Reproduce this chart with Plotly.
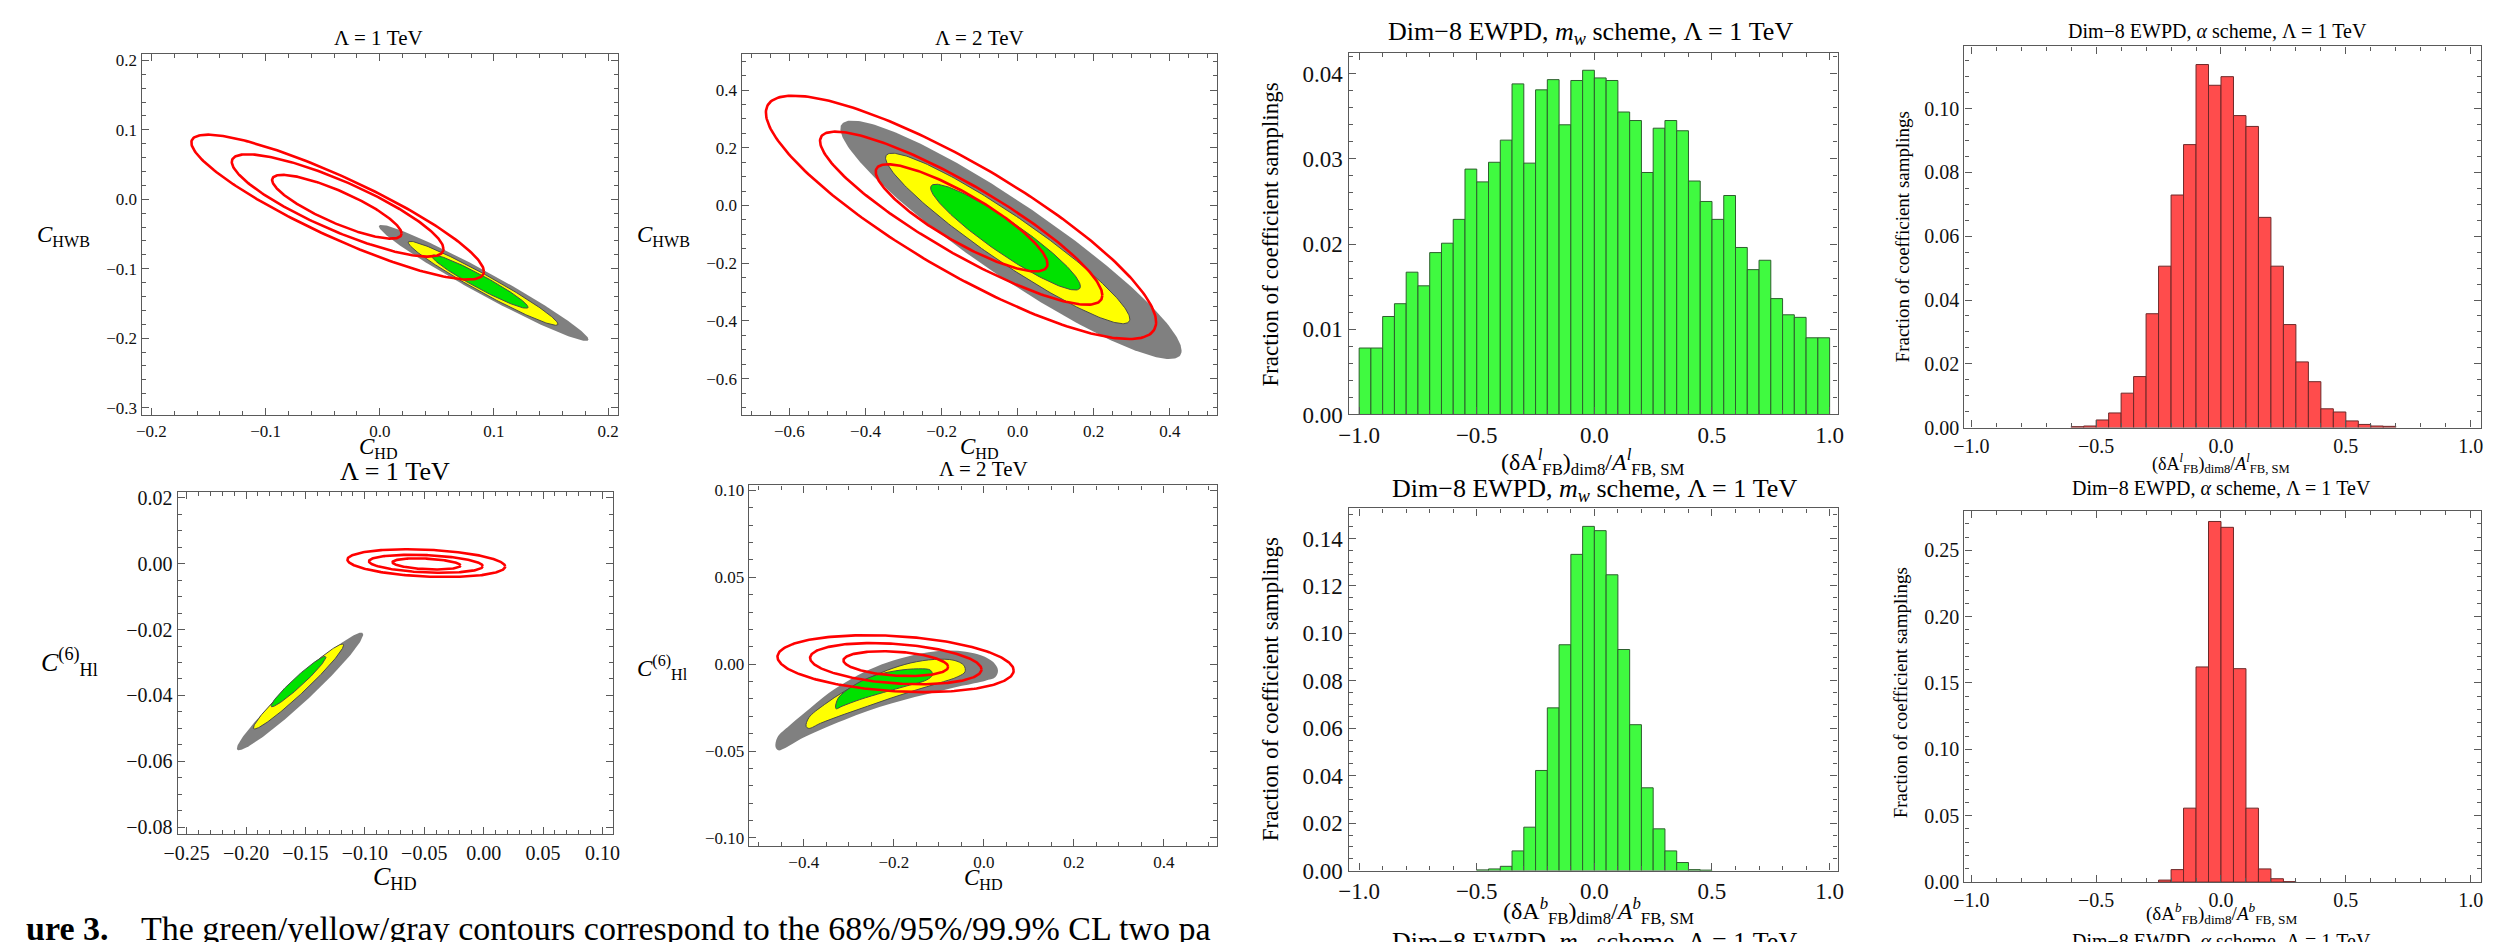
import numpy as np
import plotly.graph_objects as go

W, H = 2498, 942
FONT = "Liberation Serif"

# ======================= DATA =======================
# Contour regions are described as ellipses: centre (cx, cy), half-extent (sx, sy), correlation rho.
# order of fills: gray (99.9%), yellow (95%), green (68%); red lines: outer, middle, inner

# Panel 1: C_HD vs C_HWB, Lambda = 1 TeV
p1_fill_cx = [0.0910, 0.0905, 0.0877]
p1_fill_cy = [-0.1204, -0.1209, -0.1185]
p1_fill_sx = [0.0918, 0.0656, 0.0422]
p1_fill_sy = [0.0836, 0.0605, 0.0384]
p1_fill_rho = [-0.975, -0.972, -0.960]
p1_red_cx = [-0.0369, -0.0369, -0.0376]
p1_red_cy = [-0.0112, -0.0088, -0.0107]
p1_red_sx = [0.1281, 0.0927, 0.0567]
p1_red_sy = [0.1043, 0.0737, 0.0459]
p1_red_rho = [-0.89, -0.85, -0.84]

# Panel 2: C_HD vs C_HWB, Lambda = 2 TeV
p2_fill_cx = [-0.0175, -0.0263, -0.0320]
p2_fill_cy = [-0.1187, -0.1142, -0.1096]
p2_fill_sx = [0.4485, 0.3211, 0.1969]
p2_fill_sy = [0.4134, 0.2956, 0.1835]
p2_fill_rho = [-0.930, -0.945, -0.930]
p2_red_cx = [-0.1490, -0.1485, -0.1474]
p2_red_cy = [-0.0411, -0.0439, -0.0428]
p2_red_sx = [0.5129, 0.3711, 0.2258]
p2_red_sy = [0.4219, 0.3001, 0.1857]
p2_red_rho = [-0.86, -0.89, -0.86]

# Panel 5: C_HD vs C(6)_Hl, Lambda = 1 TeV
p5_fill_cx = [-0.1546, -0.1559, -0.1559]
p5_fill_cy = [-0.0388, -0.0373, -0.0358]
p5_fill_sx = [0.0532, 0.0380, 0.0231]
p5_fill_sy = [0.01787, 0.01291, 0.00765]
p5_fill_rho = [0.968, 0.973, 0.966]
p5_red_cx = [-0.0483, -0.0486, -0.0481]
p5_red_cy = [0.00019, -0.00001, -0.00006]
p5_red_sx = [0.0664, 0.0479, 0.0286]
p5_red_sy = [0.00422, 0.00273, 0.00169]
p5_red_rho = [-0.25, -0.27, -0.30]

# Panel 6: C_HD vs C(6)_Hl, Lambda = 2 TeV (curved regions read as boundary points)
p6_gray_x = [-0.4627, -0.4584, -0.4322, -0.3974, -0.3451, -0.2928, -0.2405, -0.1882, -0.1360,
             -0.0837, -0.0401, -0.0052, 0.0209, 0.0314, 0.0253, 0.0035, -0.0488, -0.1011,
             -0.1534, -0.2057, -0.2580, -0.3102, -0.3625, -0.4061, -0.4410, -0.4566]
p6_gray_y = [-0.0477, -0.0421, -0.0355, -0.0279, -0.0167, -0.0082, -0.0016, 0.0031, 0.0063,
             0.0078, 0.0072, 0.0050, 0.0012, -0.0035, -0.0076, -0.0095, -0.0125, -0.0157,
             -0.0189, -0.0227, -0.0270, -0.0321, -0.0377, -0.0430, -0.0483, -0.0496]
p6_yel_x = [-0.3948, -0.3887, -0.3538, -0.3102, -0.2667, -0.2144, -0.1621, -0.1098, -0.0662,
            -0.0444, -0.0418, -0.0575, -0.1011, -0.1534, -0.2057, -0.2580, -0.3102, -0.3625, -0.3887]
p6_yel_y = [-0.0358, -0.0308, -0.0232, -0.0157, -0.0095, -0.0035, 0.0007, 0.0027, 0.0022,
            -0.0007, -0.0044, -0.0072, -0.0110, -0.0151, -0.0195, -0.0242, -0.0289, -0.0340, -0.0370]
p6_grn_x = [-0.3294, -0.3233, -0.2928, -0.2492, -0.1970, -0.1447, -0.1185, -0.1142, -0.1272,
            -0.1708, -0.2231, -0.2754, -0.3146, -0.3277]
p6_grn_y = [-0.0251, -0.0195, -0.0129, -0.0072, -0.0039, -0.0027, -0.0035, -0.0063, -0.0091,
            -0.0125, -0.0163, -0.0204, -0.0242, -0.0257]
p6_red_cx = [-0.1961, -0.1956, -0.1956]
p6_red_cy = [0.00028, 0.00028, 0.00028]
p6_red_sx = [0.2623, 0.1904, 0.1163]
p6_red_sy = [0.01637, 0.01185, 0.00715]
p6_red_rho = [-0.24, -0.28, -0.26]

# Histograms (bin width 0.05)
bin_width = 0.05
h3_start = -1.0   # A_FB^l, m_w scheme
h3_vals = [0.0078, 0.0078, 0.0115, 0.0130, 0.0167, 0.0151, 0.0190, 0.0201, 0.0229, 0.0288,
           0.0273, 0.0296, 0.0322, 0.0388, 0.0295, 0.0381, 0.0393, 0.0340, 0.0392, 0.0404,
           0.0395, 0.0392, 0.0355, 0.0345, 0.0284, 0.0336, 0.0345, 0.0333, 0.0274, 0.0250,
           0.0229, 0.0257, 0.0196, 0.0170, 0.0181, 0.0136, 0.0117, 0.0114, 0.0090, 0.0090]
h4_start = -0.60  # A_FB^l, alpha scheme
h4_vals = [0.0003, 0.0005, 0.0024, 0.0046, 0.0108, 0.0160, 0.0357, 0.0506, 0.0729, 0.0887,
           0.1138, 0.1073, 0.1100, 0.0978, 0.0944, 0.0659, 0.0506, 0.0323, 0.0206, 0.0144,
           0.0059, 0.0049, 0.0021, 0.0010, 0.0005, 0.0004]
h7_start = -0.50  # A_FB^b, m_w scheme
h7_vals = [0.0003, 0.0007, 0.0018, 0.0083, 0.0183, 0.0422, 0.0686, 0.0952, 0.1333, 0.1451,
           0.1433, 0.1247, 0.0932, 0.0615, 0.0349, 0.0176, 0.0083, 0.0034, 0.0004, 0.0002]
h8_start = -0.25  # A_FB^b, alpha scheme
h8_vals = [0.0015, 0.0094, 0.0557, 0.1621, 0.2717, 0.2673, 0.1608, 0.0557, 0.0099, 0.0025, 0.0003]

# ======================= STYLE =======================
GRAY = "rgb(128,128,128)"
YELLOW = "rgb(255,255,0)"
GREEN = "rgb(0,226,0)"
RED = "rgb(255,0,0)"
HGREEN = "rgb(64,250,64)"
HRED = "rgb(255,76,76)"
AXC = "#5a5a5a"


def ellipse_pts(cx, cy, sx, sy, rho, n=240):
    t = np.linspace(0, 2 * np.pi, n)
    x = cx + sx * np.cos(t)
    y = cy + sy * (rho * np.cos(t) + np.sqrt(1 - rho ** 2) * np.sin(t))
    return x, y


fig = go.Figure()
fill_cols = [GRAY, YELLOW, GREEN]


def add_ellipse_panel(k, fcx, fcy, fsx, fsy, frho, rcx, rcy, rsx, rsy, rrho):
    xa, ya = ("x" if k == 1 else f"x{k}"), ("y" if k == 1 else f"y{k}")
    for i in range(3):
        x, y = ellipse_pts(fcx[i], fcy[i], fsx[i], fsy[i], frho[i])
        fig.add_trace(go.Scatter(x=x, y=y, mode="lines", fill="toself", fillcolor=fill_cols[i],
                                 line=dict(color="#4a4a4a" if i > 0 else GRAY, width=1 if i > 0 else 0),
                                 xaxis=xa, yaxis=ya, hoverinfo="skip"))
    for i in range(3):
        x, y = ellipse_pts(rcx[i], rcy[i], rsx[i], rsy[i], rrho[i])
        fig.add_trace(go.Scatter(x=x, y=y, mode="lines", line=dict(color=RED, width=2.6),
                                 xaxis=xa, yaxis=ya, hoverinfo="skip"))


add_ellipse_panel(1, p1_fill_cx, p1_fill_cy, p1_fill_sx, p1_fill_sy, p1_fill_rho,
                  p1_red_cx, p1_red_cy, p1_red_sx, p1_red_sy, p1_red_rho)
add_ellipse_panel(2, p2_fill_cx, p2_fill_cy, p2_fill_sx, p2_fill_sy, p2_fill_rho,
                  p2_red_cx, p2_red_cy, p2_red_sx, p2_red_sy, p2_red_rho)
add_ellipse_panel(5, p5_fill_cx, p5_fill_cy, p5_fill_sx, p5_fill_sy, p5_fill_rho,
                  p5_red_cx, p5_red_cy, p5_red_sx, p5_red_sy, p5_red_rho)

# Panel 6
for (px, py), col, lw in [((p6_gray_x, p6_gray_y), GRAY, 0), ((p6_yel_x, p6_yel_y), YELLOW, 1),
                          ((p6_grn_x, p6_grn_y), GREEN, 1)]:
    fig.add_trace(go.Scatter(x=px + px[:1], y=py + py[:1], mode="lines", fill="toself", fillcolor=col,
                             line=dict(color="#4a4a4a" if lw else col, width=lw, shape="spline", smoothing=1.0),
                             xaxis="x6", yaxis="y6", hoverinfo="skip"))
for i in range(3):
    x, y = ellipse_pts(p6_red_cx[i], p6_red_cy[i], p6_red_sx[i], p6_red_sy[i], p6_red_rho[i])
    fig.add_trace(go.Scatter(x=x, y=y, mode="lines", line=dict(color=RED, width=2.6),
                             xaxis="x6", yaxis="y6", hoverinfo="skip"))


def add_hist(k, start, vals, col, edge):
    centers = start + bin_width * (np.arange(len(vals)) + 0.5)
    fig.add_trace(go.Bar(x=centers, y=vals, width=bin_width,
                         marker=dict(color=col, line=dict(color=edge, width=1)),
                         xaxis=f"x{k}", yaxis=f"y{k}", hoverinfo="skip"))


add_hist(3, h3_start, h3_vals, HGREEN, "rgb(45,95,45)")
add_hist(4, h4_start, h4_vals, HRED, "rgb(110,40,40)")
add_hist(7, h7_start, h7_vals, HGREEN, "rgb(45,95,45)")
add_hist(8, h8_start, h8_vals, HRED, "rgb(110,40,40)")

# ======================= LAYOUT =======================
# (left, right, top, bottom) in pixels, ranges, ticks
panels = {
    1: ((120.6, 601, 41.7, 410), [-0.2086, 0.2086], [-0.3108, 0.2094], 0.1, 0.02, ".1f", 0.1, 0.02, ".1f", 17),
    2: ((725.7, 1205, 42, 410), [-0.7258, 0.5237], [-0.7268, 0.5246], 0.2, 0.05, ".1f", 0.2, 0.05, ".1f", 17),
    3: ((1337.8, 1831, 41, 409.3), [-1.045, 1.034], [0, 0.0424], 0.5, 0.1, ".1f", 0.01, 0.002, ".2f", 23),
    4: ((1958.8, 2480, 34, 422.7), [-1.028, 1.042], [0, 0.1195], 0.5, 0.1, ".1f", 0.02, 0.005, ".2f", 20),
    5: ((157, 596, 488.3, 837.3), [-0.2576, 0.1089], [-0.0822, 0.0218], 0.05, 0.01, ".2f", 0.02, 0.005, ".2f", 20),
    6: ((733, 1205, 481.7, 849.3), [-0.522, 0.5176], [-0.1047, 0.1028], 0.2, 0.05, ".1f", 0.05, 0.01, ".2f", 17),
    7: ((1337.8, 1831, 505, 874.3), [-1.045, 1.034], [0, 0.1527], 0.5, 0.1, ".1f", 0.02, 0.005, ".2f", 23),
    8: ((1958.8, 2480, 507.7, 886), [-1.028, 1.042], [0, 0.2796], 0.5, 0.1, ".1f", 0.05, 0.01, ".2f", 20),
}


def axis(dom, rng, dt, mdt, fmt, fs, anchor):
    return dict(domain=dom, range=rng, anchor=anchor, dtick=dt, tick0=0, tickformat=fmt,
                showline=True, linecolor=AXC, linewidth=1.4, mirror="allticks",
                ticks="inside", ticklen=7, tickwidth=1.2, tickcolor=AXC,
                minor=dict(ticks="inside", ticklen=4, tickwidth=1, tickcolor=AXC, dtick=mdt, tick0=0),
                showgrid=False, zeroline=False, fixedrange=True,
                tickfont=dict(family=FONT, size=fs, color="#111"))


layout = dict(width=W, height=H, margin=dict(l=0, r=0, t=0, b=0), paper_bgcolor="white",
              plot_bgcolor="white", showlegend=False, barmode="overlay")
for k, ((l, r, t, b), xr, yr, xdt, xmdt, xf, ydt, ymdt, yf, fs) in panels.items():
    xn = "xaxis" if k == 1 else f"xaxis{k}"
    yn = "yaxis" if k == 1 else f"yaxis{k}"
    layout[xn] = axis([l / W, r / W], xr, xdt, xmdt, xf, fs, "y" if k == 1 else f"y{k}")
    layout[yn] = axis([1 - b / H, 1 - t / H], yr, ydt, ymdt, yf, fs, "x" if k == 1 else f"x{k}")
fig.update_layout(**layout)


def txt(x, y, s, size, angle=0, xanchor="center"):
    return dict(x=x / W, y=1 - y / H, xref="paper", yref="paper", text=s, showarrow=False,
                font=dict(family=FONT, size=size, color="black"), xanchor=xanchor,
                yanchor="middle", textangle=angle)


LAM1 = "Λ = 1 TeV"
LAM2 = "Λ = 2 TeV"
CHD = "<i>C</i><sub>HD</sub>"
CHWB = "<i>C</i><sub>HWB</sub>"
CHL = "<i>C</i><sup>(6)</sup><sub>Hl</sub>"
FRAC = "Fraction of coefficient samplings"
XL_L = "(δA<sup><i>l</i></sup><sub>FB</sub>)<sub>dim8</sub>/<i>A</i><sup><i>l</i></sup><sub>FB, SM</sub>"
XL_B = "(δA<sup><i>b</i></sup><sub>FB</sub>)<sub>dim8</sub>/<i>A</i><sup><i>b</i></sup><sub>FB, SM</sub>"
T_MW = "Dim−8 EWPD, <i>m<sub>w</sub></i> scheme, Λ = 1 TeV"
T_AL = "Dim−8 EWPD, <i>α</i> scheme, Λ = 1 TeV"

ann = [
    txt(360, 25, LAM1, 21), txt(360, 443, CHD, 23), txt(41.5, 227, CHWB, 23),
    txt(966, 25, LAM2, 21), txt(966, 443, CHD, 23), txt(647, 227, CHWB, 23),
    txt(1582, 20, T_MW, 26), txt(1259.5, 226, FRAC, 23, -90), txt(1584, 458, XL_L, 24),
    txt(2214, 18, T_AL, 20), txt(1896.7, 228, FRAC, 19, -90), txt(2218, 459, XL_L, 18),
    txt(376, 467, LAM1, 26), txt(376, 882, CHD, 26), txt(47.5, 662, CHL, 26),
    txt(970, 465, LAM2, 21), txt(970, 883, CHD, 23), txt(645.5, 667, CHL, 23),
    txt(1586, 486, T_MW, 26), txt(1259, 689, FRAC, 23, -90), txt(1590, 915, XL_B, 24),
    txt(1586, 948, T_MW, 26),
    txt(2218, 484, T_AL, 20), txt(1894.5, 693, FRAC, 19, -90), txt(2218, 918, XL_B, 19),
    txt(2218, 946, T_AL, 20),
    txt(2, 933, "<b>ure 3.</b>", 34, 0, "left"),
    txt(118, 933, "The green/yellow/gray contours correspond to the 68%/95%/99.9% CL two pa", 34, 0, "left"),
]
fig.update_layout(annotations=ann)

fig.write_html("out.html")
